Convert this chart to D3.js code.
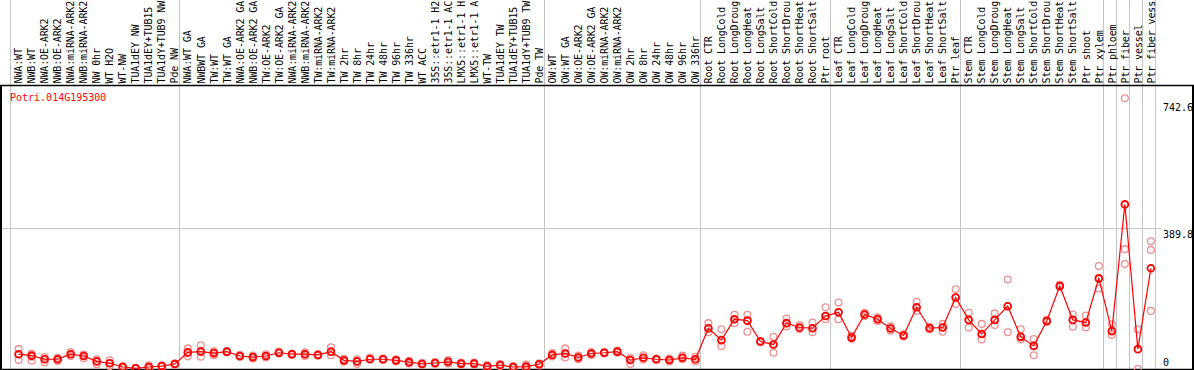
<!DOCTYPE html>
<html>
<head>
<meta charset="utf-8">
<script src="https://cdn.jsdelivr.net/npm/d3@7"></script>
<style>
  body { margin: 0; background: #fff; }
  svg { display: block; }
  text { font-family: "DejaVu Sans Mono", monospace; font-size: 10px; }
</style>
</head>
<body>
<div id="chart"></div>
<script>
// Gene name shown in the plot
const geneName = "Potri.014G195300";

// Sample labels (column headers), as far as they show in the header
const labels = [
  "NWA:WT", "NWB:WT", "NWA:OE-ARK2", "NWB:OE-ARK2", "NWA:miRNA-ARK2", "NWB:miRNA-ARK2",
  "NW 0hr", "WT H2O", "WT-NW", "TUA1dEY NW", "TUA1dEY+TUB15", "TUA1dY+TUB9 NW", "Pde NW",
  "NWA:WT GA", "NWBWT GA", "TW:WT", "TW:WT GA", "NWA:OE-ARK2 GA", "NWB:OE-ARK2 GA",
  "TW:OE-ARK2", "TW:OE-ARK2 GA", "NWA:miRNA-ARK2", "NWB:miRNA-ARK2", "TW:miRNA-ARK2", "TW:miRNA-ARK2",
  "TW 2hr", "TW 8hr", "TW 24hr", "TW 48hr", "TW 96hr", "TW 336hr", "WT ACC",
  "35S::etr1-1 H2", "35S::etr1-1 AC", "LMX5::etr1-1 H", "LMX5::etr1-1 A", "WT-TW",
  "TUA1dEY TW", "TUA1dEY+TUB15", "TUA1dY+TUB9 TW", "Pde TW",
  "OW:WT", "OW:WT GA", "OW:OE-ARK2", "OW:OE-ARK2 GA", "OW:miRNA-ARK2", "OW:miRNA-ARK2",
  "OW 2hr", "OW 8hr", "OW 24hr", "OW 48hr", "OW 96hr", "OW 336hr",
  "Root CTR", "Root LongCold", "Root LongDroug", "Root LongHeat", "Root LongSalt",
  "Root ShortCold", "Root ShortDrou", "Root ShortHeat", "Root ShortSalt", "Ptr root",
  "Leaf CTR", "Leaf LongCold", "Leaf LongDroug", "Leaf LongHeat", "Leaf LongSalt",
  "Leaf ShortCold", "Leaf ShortDrou", "Leaf ShortHeat", "Leaf ShortSalt", "Ptr leaf",
  "Stem CTR", "Stem LongCold", "Stem LongDroug", "Stem LongHeat", "Stem LongSalt",
  "Stem ShortCold", "Stem ShortDrou", "Stem ShortHeat", "Stem ShortSalt", "Ptr shoot",
  "Ptr xylem", "Ptr phloem", "Ptr fiber", "Ptr vessel", "Ptr fiber vess"
];

// Mean expression per sample
const meanValues = [
  41, 37, 27, 27, 41, 36, 21, 16, 5.5, 2, 5.5, 8, 14,
  46, 48, 44, 48, 36, 33, 36, 45, 41, 41, 39, 48, 24, 21, 27, 27, 24, 19, 14, 16.6, 20,
  15, 15, 7.5, 11, 5.5, 6.5, 13,
  39, 43, 32, 43, 45, 48, 25, 31, 27, 25, 31, 27,
  113, 80, 138, 134, 76, 68, 127, 115, 113, 147,
  157, 87, 151, 138, 112, 93, 171, 113, 115, 198,
  136, 97, 136, 174, 89, 64, 133, 230, 136, 129, 251,
  105, 456, 55, 279
];

// Replicate values per sample
const replicateValues = [
  [55, 41, 25], [42, 34, 23], [33, 27, 19], [31, 27, 22], [47, 41, 36], [40, 36, 30],
  [27, 21, 13], [24, 16, 8], [8, 5, 3], [3, 2, 1], [10, 5, 2], [10, 8, 6], [16, 14, 12],
  [57, 45, 35], [66, 51, 34], [49, 44, 38], [50, 48, 46], [39, 36, 33], [37, 33, 29],
  [41, 36, 32], [48, 45, 43], [43, 41, 39], [46, 41, 36], [41, 39, 37], [60, 48, 38],
  [28, 24, 20], [27, 21, 14], [32, 30, 28], [29, 27, 25], [27, 24, 21], [23, 19, 15],
  [17, 14, 11], [19, 17, 14], [25, 20, 15], [18, 15, 12], [18, 15, 12], [11, 7, 4],
  [14, 11, 8], [8, 5, 3], [12, 6, 2], [16, 13, 10],
  [44, 39, 35], [57, 43, 32], [37, 32, 27], [47, 43, 39], [47, 45, 43], [51, 48, 45],
  [30, 25, 14], [38, 31, 26], [29, 27, 25], [29, 25, 21], [37, 31, 27], [34, 27, 21],
  [127, 113, 102], [110, 80, 64], [150, 138, 127], [150, 134, 103], [78, 76, 74],
  [89, 68, 45], [140, 127, 118], [122, 115, 110], [129, 113, 102], [171, 147, 138],
  [184, 157, 138], [92, 87, 84], [156, 151, 146], [143, 138, 133], [118, 112, 106],
  [96, 93, 90], [186, 171, 161], [117, 113, 110], [125, 115, 103], [221, 198, 180],
  [156, 136, 115], [125, 97, 82], [154, 136, 122], [248, 174, 102], [110, 89, 82],
  [83, 64, 38], [136, 133, 130], [233, 230, 227], [151, 136, 117], [148, 129, 115],
  [285, 251, 223],
  [124, 105, 94], [750, 332, 291], [110, 0], [354, 330, 161]
];

// Indices of the columns that a grey separator follows
const groupEnds = [-1, 12, 40, 52, 62, 72, 83, 84, 85, 86, 87];

// Right-hand axis
const tickValues = [742.6, 389.8, 0];
const tickLabels = ["742.6", "389.8", "0"];
const gridValues = [389.8];

const width = 1194, height = 370;

var svg = d3.select("#chart")
  .append("svg")
  .attr("width", width)
  .attr("height", height);

// Scales
var x = d3.scaleBand()
  .domain(d3.range(labels.length))
  .range([10, 1155.3])
  .paddingInner(0)
  .paddingOuter(0);

var y = d3.scaleLinear()
  .domain([0, 784])
  .range([369, 86]);

function cx(i) { return x(i) + 8.6; }

// Horizontal grid line
svg.selectAll(".grid")
  .data(gridValues)
  .enter()
  .append("line")
  .attr("x1", 0)
  .attr("x2", 1161)
  .attr("y1", function(d){ return Math.round(y(d)) + 0.5 })
  .attr("y2", function(d){ return Math.round(y(d)) + 0.5 })
  .attr("stroke", "#c4c4c4")
  .attr("stroke-width", 1);

// Vertical group separators
svg.selectAll(".sep")
  .data(groupEnds)
  .enter()
  .append("line")
  .attr("x1", function(d){ return Math.round(x.range()[0] + x.step() * (d + 1)) + 0.5 })
  .attr("x2", function(d){ return Math.round(x.range()[0] + x.step() * (d + 1)) + 0.5 })
  .attr("y1", 0)
  .attr("y2", 369)
  .attr("stroke", "#c4c4c4")
  .attr("stroke-width", 1);

// Column labels, rotated
svg.selectAll(".lab")
  .data(labels)
  .enter()
  .append("text")
  .attr("transform", function(d, i){ return "translate(" + (x(i) + 12.3) + ",83.5) rotate(-90)" })
  .attr("fill", "#000")
  .style("letter-spacing", "-0.12px")
  .text(function(d){ return d });

// Frame
svg.append("line").attr("x1", 0).attr("x2", width).attr("y1", 85.5).attr("y2", 85.5)
  .attr("stroke", "#000").attr("stroke-width", 1.5);
svg.append("line").attr("x1", 1).attr("x2", 1).attr("y1", 85).attr("y2", height)
  .attr("stroke", "#000").attr("stroke-width", 2);
svg.append("line").attr("x1", 1193).attr("x2", 1193).attr("y1", 85).attr("y2", height)
  .attr("stroke", "#000").attr("stroke-width", 2);
svg.append("line").attr("x1", 0).attr("x2", width).attr("y1", 369.5).attr("y2", 369.5)
  .attr("stroke", "#000").attr("stroke-width", 1.5);

// Axis labels on the right
svg.selectAll(".tick")
  .data(tickValues)
  .enter()
  .append("text")
  .attr("x", 1163)
  .attr("y", function(d){ return d === 0 ? y(d) - 3 : y(d) + 10 })
  .attr("fill", "#000")
  .text(function(d, i){ return tickLabels[i] });

// Gene title
svg.append("text")
  .attr("x", 10)
  .attr("y", 101)
  .attr("fill", "#ff0000")
  .text(geneName);

// Replicates
var reps = [];
replicateValues.forEach(function(r, i){ r.forEach(function(v){ reps.push({ i: i, v: v }) }) });

svg.selectAll(".rep")
  .data(reps)
  .enter()
  .append("circle")
  .attr("cx", function(d){ return cx(d.i) })
  .attr("cy", function(d){ return y(d.v) })
  .attr("r", 3.4)
  .attr("fill", "none")
  .attr("stroke", "#ef9090")
  .attr("stroke-width", 1.3);

// Mean line
var line = d3.line()
  .x(function(d, i){ return cx(i) })
  .y(function(d){ return y(d) });

svg.append("path")
  .datum(meanValues)
  .attr("d", line)
  .attr("fill", "none")
  .attr("stroke", "#ff0000")
  .attr("stroke-width", 1.2);

// Mean points
svg.selectAll(".mean")
  .data(meanValues)
  .enter()
  .append("circle")
  .attr("cx", function(d, i){ return cx(i) })
  .attr("cy", function(d){ return y(d) })
  .attr("r", 3.4)
  .attr("fill", "none")
  .attr("stroke", "#ff0000")
  .attr("stroke-width", 1.8);
</script>
</body>
</html>
